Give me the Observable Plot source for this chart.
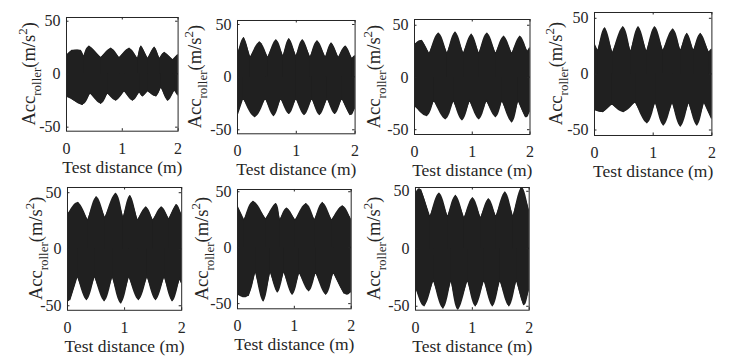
<!DOCTYPE html>
<html><head><meta charset="utf-8">
<script src="https://cdn.jsdelivr.net/npm/d3@7"></script>
<script src="https://cdn.jsdelivr.net/npm/@observablehq/plot@0.6"></script>
<style>
body{margin:0;background:#fff;}
#fig{position:relative;width:755px;height:360px;overflow:hidden;background:#fff;font-family:"Liberation Serif","Times New Roman",serif;}
#fig svg{position:absolute;overflow:visible;}
</style></head><body><div id="fig"></div>
<script>
// ---- tick values & labels ----
const xTicks = [0, 1, 2];
const yTicks = [-50, 0, 50];
const xLabel = "Test distance (m)";
const yLabelMain = "Acc", yLabelSub = "roller", yLabelUnit = "(m/s", yLabelSup = "2", yLabelEnd = ")";

// ---- envelope data (upper / lower), distance in m, acc in m/s^2 ----
const p1UpperX = [0, 0.1, 0.26, 0.31, 0.41, 0.62, 0.8, 0.95, 1.13, 1.28, 1.34, 1.46, 1.58, 1.67, 1.76, 1.91, 2.0];
const p1UpperY = [17, 22, 22, 16, 26, 15, 24, 15, 24, 14, 26, 14, 25, 14, 20, 13, 18];
const p1LowerX = [0, 0.08, 0.29, 0.43, 0.62, 0.74, 0.89, 1.04, 1.19, 1.31, 1.37, 1.46, 1.61, 1.70, 1.82, 1.94, 2.0];
const p1LowerY = [-21, -23, -29, -18, -28, -18, -25, -16, -25, -17, -21, -16, -21, -12, -25, -15, -20];

const p2UpperX = [0, 0.11, 0.22, 0.38, 0.52, 0.66, 0.78, 0.88, 1.0, 1.11, 1.24, 1.36, 1.5, 1.6, 1.72, 1.84, 1.95, 2.0];
const p2UpperY = [20, 37, 18, 33, 18, 35, 19, 36, 19, 35, 18, 34, 18, 32, 18, 29, 17, 20];
const p2LowerX = [0, 0.1, 0.3, 0.48, 0.62, 0.74, 0.88, 1.0, 1.14, 1.27, 1.4, 1.53, 1.66, 1.78, 1.92, 2.0];
const p2LowerY = [-37, -20, -38, -20, -37, -20, -35, -20, -36, -20, -36, -20, -35, -20, -36, -30];

const p3UpperX = [0, 0.13, 0.26, 0.42, 0.57, 0.71, 0.85, 0.99, 1.12, 1.26, 1.41, 1.55, 1.69, 1.83, 1.96, 2.0];
const p3UpperY = [31, 35, 22, 42, 22, 43, 22, 41, 22, 42, 22, 39, 22, 39, 24, 28];
const p3LowerX = [0, 0.22, 0.34, 0.54, 0.68, 0.83, 0.96, 1.12, 1.25, 1.41, 1.52, 1.69, 1.8, 1.93, 2.0];
const p3LowerY = [-27, -37, -22, -40, -22, -41, -22, -40, -22, -38, -22, -43, -22, -38, -33];

const p4UpperX = [0, 0.06, 0.18, 0.31, 0.49, 0.62, 0.75, 0.89, 1.03, 1.17, 1.34, 1.47, 1.58, 1.69, 1.81, 1.95, 2.0];
const p4UpperY = [27, 20, 41, 18, 42, 19, 42, 19, 42, 20, 40, 20, 36, 20, 36, 19, 22];
const p4LowerX = [0, 0.15, 0.3, 0.5, 0.7, 0.9, 1.04, 1.18, 1.33, 1.47, 1.61, 1.75, 1.87, 2.0];
const p4LowerY = [-32, -34, -27, -34, -25, -44, -25, -46, -25, -47, -25, -46, -25, -40];

const p5UpperX = [0, 0.19, 0.36, 0.51, 0.66, 0.85, 0.98, 1.1, 1.23, 1.38, 1.5, 1.65, 1.78, 1.91, 2.0];
const p5UpperY = [30, 41, 25, 46, 27, 49, 27, 47, 25, 37, 25, 37, 26, 39, 30];
const p5LowerX = [0, 0.05, 0.18, 0.34, 0.48, 0.65, 0.79, 0.94, 1.08, 1.25, 1.4, 1.55, 1.7, 1.84, 1.97, 2.0];
const p5LowerY = [-43, -45, -24, -45, -24, -46, -24, -48, -24, -45, -24, -45, -24, -46, -26, -30];

const p6UpperX = [0, 0.12, 0.28, 0.5, 0.68, 0.75, 0.87, 1.02, 1.21, 1.36, 1.5, 1.66, 1.85, 2.0];
const p6UpperY = [37, 24, 41, 25, 39, 24, 35, 24, 39, 24, 40, 24, 37, 25];
const p6LowerX = [0, 0.2, 0.32, 0.46, 0.58, 0.71, 0.82, 0.97, 1.09, 1.26, 1.38, 1.56, 1.69, 1.88, 2.0];
const p6LowerY = [-42, -43, -21, -48, -21, -40, -21, -42, -22, -39, -22, -42, -22, -41, -40];

const p7UpperX = [0, 0.1, 0.26, 0.42, 0.57, 0.71, 0.86, 1.01, 1.15, 1.29, 1.42, 1.58, 1.72, 1.87, 2.0];
const p7UpperY = [47, 51, 27, 48, 27, 46, 26, 44, 26, 43, 27, 49, 27, 53, 33];
const p7LowerX = [0, 0.16, 0.32, 0.49, 0.63, 0.75, 0.92, 1.06, 1.21, 1.36, 1.49, 1.65, 1.78, 1.91, 2.0];
const p7LowerY = [-33, -50, -27, -52, -27, -53, -27, -50, -27, -50, -27, -50, -27, -49, -36];

// ---- layout (page pixels of each axes box) ----
const panels = [
  {ux: p1UpperX, uy: p1UpperY, lx: p1LowerX, ly: p1LowerY, box: [65.7, 177.3, 17.3, 131], dom: [-53.8, 53.5], lab: 31},
  {ux: p2UpperX, uy: p2UpperY, lx: p2LowerX, ly: p2LowerY, box: [236.7, 354.3, 20, 133.3], dom: [-53.8, 53.8], lab: 36},
  {ux: p3UpperX, uy: p3UpperY, lx: p3LowerX, ly: p3LowerY, box: [414.3, 529.8, 19.3, 134.3], dom: [-54.6, 55.5], lab: 34},
  {ux: p4UpperX, uy: p4UpperY, lx: p4LowerX, ly: p4LowerY, box: [594.3, 711.7, 12.3, 135.3], dom: [-54.9, 55.2], lab: 32},
  {ux: p5UpperX, uy: p5UpperY, lx: p5LowerX, ly: p5LowerY, box: [66.5, 180.7, 186.5, 309.3], dom: [-54, 54.6], lab: 25},
  {ux: p6UpperX, uy: p6UpperY, lx: p6LowerX, ly: p6LowerY, box: [237.3, 351, 188.5, 307.8], dom: [-54.6, 52], lab: 29},
  {ux: p7UpperX, uy: p7UpperY, lx: p7LowerX, ly: p7LowerY, box: [414.8, 528.5, 187, 309.7], dom: [-53.4, 53.3], lab: 35}
];

const INK = "#262626", FILL = "#202020";

// split an envelope into lobes at its cusps (local minima of |y|)
function lobes(xs, ys, name) {
  const n = xs.length, cuts = [0];
  for (let i = 1; i < n - 1; i++) {
    const a = Math.abs(ys[i]);
    if (a < Math.abs(ys[i - 1]) && a <= Math.abs(ys[i + 1])) cuts.push(i);
  }
  cuts.push(n - 1);
  const rows = [];
  for (let k = 0; k < cuts.length - 1; k++)
    for (let i = cuts[k]; i <= cuts[k + 1]; i++) rows.push({seg: name + k, x: xs[i], y: ys[i]});
  return rows;
}
const pts = (xs, ys) => xs.map((x, i) => ({x, y: ys[i]}));

const fig = document.getElementById("fig");
const mL = 62, mR = 8, mT = 8, mB = 46;

panels.forEach((p) => {
  const [fl, fr, ft, fb] = p.box;
  const fw = fr - fl, fh = fb - ft;
  const upper = lobes(p.ux, p.uy, "u");
  const lower = lobes(p.lx, p.ly, "l");
  const chart = Plot.plot({
    width: fw + mL + mR, height: fh + mT + mB,
    marginLeft: mL, marginRight: mR, marginTop: mT, marginBottom: mB,
    x: {domain: [0, 2]},
    y: {domain: p.dom},
    style: {fontFamily: "'Liberation Serif','Times New Roman',serif", background: "transparent", overflow: "visible", color: INK},
    marks: [
      // solid core (chords between envelope points) so lobe joins show no seams
      Plot.areaY(pts(p.ux, p.uy), {x: "x", y1: 0, y2: "y", fill: FILL, stroke: FILL, strokeWidth: 1.2, clip: true}),
      Plot.areaY(pts(p.lx, p.ly), {x: "x", y1: 0, y2: "y", fill: FILL, stroke: FILL, strokeWidth: 1.2, clip: true}),
      // rounded lobes of the envelope
      Plot.areaY(upper, {x: "x", y1: 0, y2: "y", z: "seg", curve: "natural", fill: FILL, clip: true}),
      Plot.areaY(lower, {x: "x", y1: 0, y2: "y", z: "seg", curve: "natural", fill: FILL, clip: true}),
      Plot.frame({stroke: INK, strokeWidth: 1}),
      Plot.tickX(xTicks, {x: d => d, insetTop: fh - 2.5, stroke: INK}),
      Plot.tickX(xTicks, {x: d => d, insetBottom: fh - 2.5, stroke: INK}),
      Plot.tickY(yTicks, {y: d => d, insetRight: fw - 2.5, stroke: INK}),
      Plot.tickY(yTicks, {y: d => d, insetLeft: fw - 2.5, stroke: INK}),
      Plot.axisX(xTicks, {anchor: "bottom", tickSize: 0, tickPadding: 11, tickFormat: d => String(d), fontSize: 16, label: null, fill: INK}),
      Plot.axisY(yTicks, {anchor: "left", tickSize: 0, tickPadding: 6, tickFormat: d => String(d), fontSize: 16, label: null, fill: INK}),
      Plot.text([xLabel], {text: d => d, frameAnchor: "bottom", dy: 36, lineAnchor: "middle", fontSize: 17.5, fill: INK})
    ]
  });
  chart.style.left = (fl - mL) + "px";
  chart.style.top = (ft - mT) + "px";
  // y-axis label with subscript and superscript
  const t = d3.select(chart).append("text")
    .attr("transform", `translate(${mL - p.lab},${mT + fh / 2}) rotate(-90)`)
    .attr("text-anchor", "middle")
    .attr("font-size", 18.5)
    .attr("fill", INK);
  t.append("tspan").text(yLabelMain);
  t.append("tspan").attr("font-size", 13).attr("dy", 6).text(yLabelSub);
  t.append("tspan").attr("dy", -6).text(yLabelUnit);
  t.append("tspan").attr("font-size", 13).attr("dy", -8).text(yLabelSup);
  t.append("tspan").attr("dy", 8).text(yLabelEnd);
  fig.appendChild(chart);
});
</script>
</body></html>
